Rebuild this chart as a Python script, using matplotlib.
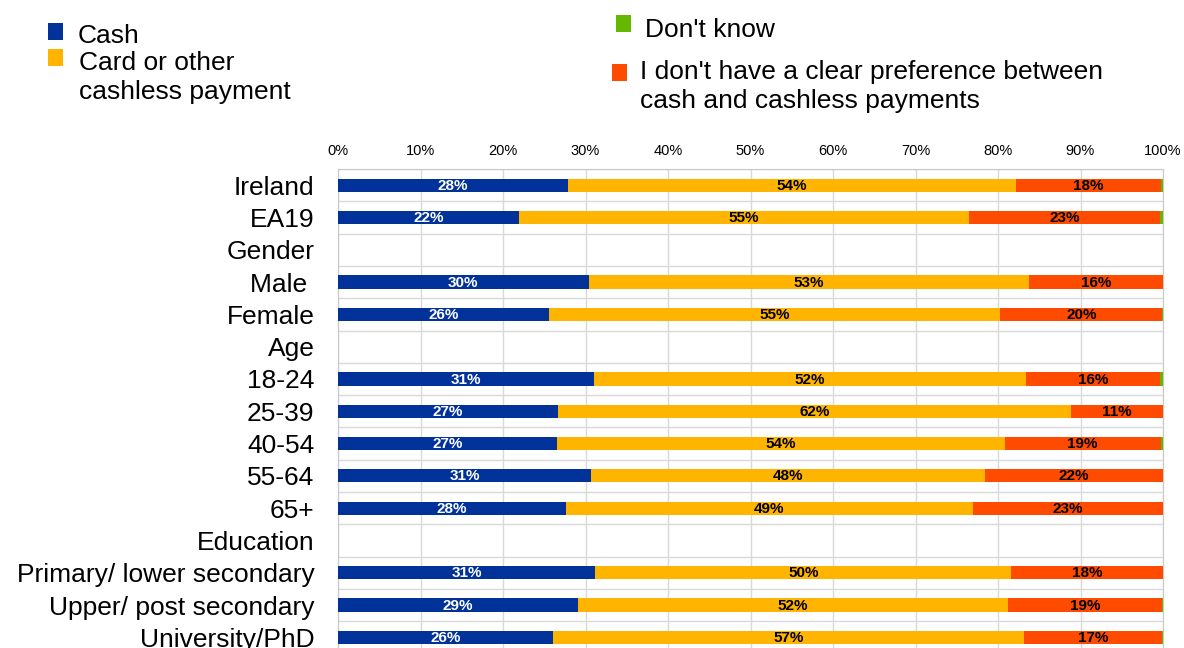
import matplotlib
matplotlib.use('Agg')
import matplotlib.pyplot as plt
from matplotlib.patches import Rectangle
import numpy as np

plt.rcParams['font.family'] = ['Liberation Sans', 'DejaVu Sans']

# Payment preference shares (%), one entry per row; header rows are empty
categories = ['Ireland', 'EA19', 'Gender', 'Male ', 'Female', 'Age',
              '18-24', '25-39', '40-54', '55-64', '65+', 'Education',
              'Primary/ lower secondary', 'Upper/ post secondary',
              'University/PhD']

nan = np.nan
cash = [27.9, 21.9, nan, 30.4, 25.6, nan, 31.0, 26.7, 26.6, 30.7, 27.6,
        nan, 31.2, 29.1, 26.1]
card = [54.3, 54.6, nan, 53.4, 54.7, nan, 52.4, 62.2, 54.2, 47.7, 49.4,
        nan, 50.4, 52.1, 57.0]
no_pref = [17.6, 23.1, nan, 16.2, 19.6, nan, 16.2, 11.1, 18.9, 21.6, 23.0,
           nan, 18.4, 18.7, 16.8]
dont_know = [0.2, 0.4, nan, 0.0, 0.1, nan, 0.4, 0.0, 0.3, 0.0, 0.0,
             nan, 0.0, 0.1, 0.1]

series = [
    ('Cash', cash, '#003299', 'white'),
    ('Card or other\ncashless payment', card, '#FFB400', 'black'),
    ("I don't have a clear preference between\ncash and cashless payments",
     no_pref, '#FF4B00', 'black'),
    ("Don't know", dont_know, '#65B800', 'black'),
]

W, H = 1184, 648
fig = plt.figure(figsize=(W / 100, H / 100), dpi=100)
ax = fig.add_axes([338 / W, 1 - 653.5 / H, 825 / W, 484.5 / H])

y = np.arange(len(categories))
left = np.zeros(len(categories))
for name, vals, color, txtcolor in series:
    vals = np.array(vals, dtype=float)
    ax.barh(y, np.nan_to_num(vals), left=left, height=0.41, color=color,
            linewidth=0, zorder=3)
    for yi, v, l in zip(y, vals, left):
        if np.isfinite(v) and v >= 5:
            ax.text(l + v / 2, yi + 0.02, f'{v:.0f}%', ha='center',
                    va='center', color=txtcolor, fontsize=11,
                    fontweight='bold', zorder=4)
    left += np.nan_to_num(vals)

ax.set_xlim(0, 100)
ax.set_ylim(len(categories) - 0.5, -0.5)

ax.xaxis.tick_top()
ax.set_xticks(np.arange(0, 101, 10))
ax.set_xticklabels([f'{t}%' for t in range(0, 101, 10)], fontsize=10.5)
ax.set_yticks(y)
ax.set_yticklabels(categories, fontsize=19)
ax.set_yticks(np.arange(-0.5, len(categories), 1), minor=True)
ax.tick_params(axis='x', length=0, pad=8)
ax.tick_params(axis='y', which='both', length=0, pad=17)

grid_col = '#d9d9d9'
ax.grid(axis='x', which='major', color=grid_col, linewidth=1, zorder=0)
ax.grid(axis='y', which='minor', color=grid_col, linewidth=1, zorder=0)
for side in ['left', 'right', 'top']:
    ax.spines[side].set_color('#c8c8c8')
ax.spines['bottom'].set_visible(False)


# legend, laid out as two free-standing blocks; each text line is placed
# on its own baseline so the swatch sits next to the first line
def legend_item(x0, y0, w, h, color, tx, ty, label, step=29):
    fig.add_artist(Rectangle((x0 / W, 1 - (y0 + h) / H), w / W, h / H,
                             transform=fig.transFigure, color=color, lw=0))
    for i, line in enumerate(label.split('\n')):
        fig.text(tx / W, 1 - (ty + i * step) / H, line, fontsize=19,
                 va='baseline', ha='left')


legend_item(48, 23, 15, 17, series[0][2], 78, 43, series[0][0])
legend_item(48, 49, 15, 17, series[1][2], 79, 70, series[1][0])
legend_item(616, 15, 15, 17, series[3][2], 645, 37, series[3][0])
legend_item(612, 64, 15, 17, series[2][2], 640, 79, series[2][0])

fig.savefig('out.png', dpi=100)
